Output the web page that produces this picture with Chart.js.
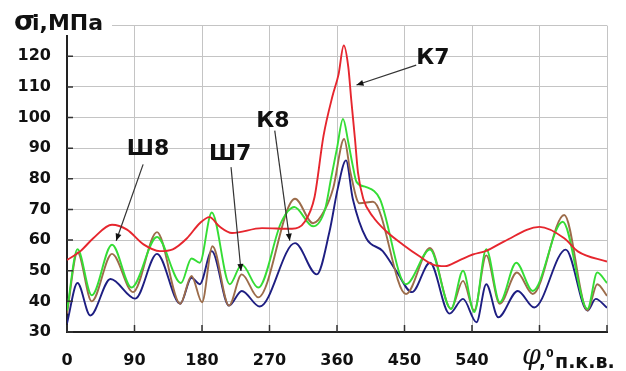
<!DOCTYPE html>
<html>
<head>
<meta charset="utf-8">
<script src="https://cdn.jsdelivr.net/npm/chart.js@4/dist/chart.umd.min.js"></script>
<style>
html,body{margin:0;padding:0;background:#fff;}
#wrap{width:626px;height:371px;position:relative;}
</style>
</head>
<body>
<div id="wrap"><canvas id="c" width="626" height="371"></canvas></div>
<script>
// Angle of crankshaft rotation (deg) and stress (MPa)
const k7 = [[0,53.5],[18,56.4],[35,60.6],[60,65],[80,63.4],[102,58.6],[124,56.4],[141,57],[160,60.6],[177,65.5],[190,67.5],[203,64.5],[220,62.3],[260,63.9],[300,63.7],[317,66],[330,74],[342,94],[354,107],[362,114],[369,123.5],[375,116.6],[379,105.8],[384,92.9],[388,82],[395,73.5],[408,67.6],[426,62.8],[448,58.5],[470,54.7],[488,52],[504,51.5],[523,53.4],[541,55.3],[559,56.5],[583,59.6],[630,64.3],[663,60.6],[681,56.3],[720,53]];
const sh8 = [[0,37],[14,57],[33,42],[60,58.5],[86,44.5],[120,61],[152,46],[166,54],[177,52.6],[193,69],[217,45.6],[233,52],[255,44.5],[286,66],[303,70.8],[328,64.5],[344,70],[352,80],[360,90],[368,99.5],[375,92],[381,84.3],[386,79],[399,77.3],[417,73.5],[452,45.6],[484,56.9],[512,37.5],[528,50],[543,36.5],[559,57],[577,39.7],[599,52.6],[621,43.4],[661,66],[694,37.5],[707,49.4],[720,46]];
const sh7 = [[0,36],[14,56],[33,40],[60,55.5],[88,43],[120,62.6],[151,39.2],[166,48.3],[180,39.7],[194,58],[216,38.6],[233,48.8],[255,41.3],[304,73.5],[328,65.5],[344,70],[355,77],[369.5,93],[378,82],[390,72],[408,72.5],[452,42.4],[484,57.4],[512,37.6],[528,46.7],[543,37],[559,55],[577,39.2],[600,49.4],[621,42.4],[663,68.2],[694,37],[707,45.6],[720,41.8]];
const k8 = [[0,32.8],[14,46],[31,35.4],[58,47.3],[91,40.9],[120,55.5],[151,39.2],[166,47.7],[177,45.6],[193,56.4],[216,38.6],[233,43.4],[257,38.3],[304,59],[333,48.8],[350,62.8],[361,76.8],[372,86],[381,73.5],[399,60.6],[421,56.4],[439,49.9],[460,43],[484,52.6],[510,36],[528,40.8],[546,33.2],[559,45.6],[575,34.8],[601,43.4],[623,38],[665,56.9],[694,37],[705,40.8],[720,37.9]];
const xTicks = [0,90,180,270,360,450,540];
const yTicks = [30,40,50,60,70,80,90,100,110,120];

// Callout labels (text, label anchor, arrow start, arrow end) in data units
const callouts = [
  {text:'К7', lx:488, ly:119.3, x1:465.6, y1:117.1, x2:386, y2:110.6},
  {text:'К8', lx:274.6, ly:98.9, x1:277, y1:95.7, x2:297, y2:59.8},
  {text:'Ш8', lx:108, ly:89.6, x1:101.5, y1:84.7, x2:65.6, y2:59.8},
  {text:'Ш7', lx:217.5, ly:88, x1:218.7, y1:83.8, x2:232, y2:49.9}
];

const toXY = a => a.map(p => ({x:p[0], y:p[1]}));

const overlay = {
  id:'overlay',
  afterDraw(chart){
    const ctx = chart.ctx, xs = chart.scales.x, ys = chart.scales.y, ca = chart.chartArea;
    ctx.save();
    // inside tick marks
    ctx.strokeStyle = '#333'; ctx.lineWidth = 1.5;
    ctx.beginPath();
    xs.ticks.forEach(t => { const px = xs.getPixelForValue(t.value); ctx.moveTo(px, ca.bottom); ctx.lineTo(px, ca.bottom-7); });
    ys.ticks.forEach(t => { if (t.value >= 130) return; const py = ys.getPixelForValue(t.value); ctx.moveTo(ca.left, py); ctx.lineTo(ca.left+6, py); });
    ctx.stroke();
    // callouts
    ctx.fillStyle = '#111'; ctx.strokeStyle = '#333'; ctx.lineWidth = 1.2;
    callouts.forEach(c => {
      const x1 = xs.getPixelForValue(c.x1), y1 = ys.getPixelForValue(c.y1);
      const x2 = xs.getPixelForValue(c.x2), y2 = ys.getPixelForValue(c.y2);
      ctx.beginPath(); ctx.moveTo(x1,y1); ctx.lineTo(x2,y2); ctx.stroke();
      const ang = Math.atan2(y2-y1, x2-x1), L = 7, W = 3;
      ctx.beginPath();
      ctx.moveTo(x2,y2);
      ctx.lineTo(x2 - L*Math.cos(ang) + W*Math.sin(ang), y2 - L*Math.sin(ang) - W*Math.cos(ang));
      ctx.lineTo(x2 - L*Math.cos(ang) - W*Math.sin(ang), y2 - L*Math.sin(ang) + W*Math.cos(ang));
      ctx.closePath(); ctx.fill();
      ctx.font = 'bold 22px "DejaVu Sans"'; ctx.textAlign = 'center'; ctx.textBaseline = 'middle';
      ctx.fillText(c.text, xs.getPixelForValue(c.lx), ys.getPixelForValue(c.ly));
    });
    // y axis title
    ctx.fillStyle = '#fff'; ctx.fillRect(0, 0, 112, 35);
    ctx.fillStyle = '#111'; ctx.textAlign = 'left'; ctx.textBaseline = 'alphabetic';
    ctx.font = 'bold 27px "DejaVu Sans"'; ctx.fillText('σ', 14, 29.5);
    ctx.font = 'bold 22px "DejaVu Sans"'; ctx.fillText('i,МПа', 32, 29.5);
    // x axis title
    ctx.font = 'italic 27px "DejaVu Serif"'; ctx.fillText('φ', 522, 364);
    ctx.font = 'bold 18px "DejaVu Sans"'; ctx.fillText(',', 539, 367);
    ctx.font = 'bold 11px "DejaVu Sans"'; ctx.fillText('0', 546, 357);
    ctx.font = 'bold 19px "DejaVu Sans"'; ctx.fillText('п.к.в.', 555, 368);
    ctx.restore();
  }
};

const ds = (label, arr, color) => ({
  label, data: toXY(arr), borderColor: color, backgroundColor: color,
  borderWidth: 1.9, pointRadius: 0, fill: false, cubicInterpolationMode: 'monotone'
});

new Chart(document.getElementById('c'), {
  type: 'line',
  data: { datasets: [
    ds('К7', k7, '#e6262e'),
    ds('Ш8', sh8, '#35dd35'),
    ds('Ш7', sh7, '#9c6c4a'),
    ds('К8', k8, '#1e1e82')
  ]},
  options: {
    responsive: false, animation: false,
    layout: { padding: { left: 0, right: 17, top: 21, bottom: 0 } },
    plugins: { legend: { display: false }, tooltip: { enabled: false } },
    scales: {
      x: {
        type: 'linear', min: 0, max: 720,
        afterFit: s => { s.height = 39; },
        afterBuildTicks: s => { s.ticks = [0,90,180,270,360,450,540,630,720].map(v => ({value:v})); },
        ticks: { stepSize: 90, padding: 19, color: '#111', font: { family: 'DejaVu Sans', size: 16, weight: 'bold' },
          callback: v => xTicks.includes(v) ? String(v) : '' , maxRotation: 0, autoSkip: false },
        grid: { color: '#c4c4c4', lineWidth: 1, drawTicks: false },
        border: { color: '#222', width: 2 }
      },
      y: {
        min: 30, max: 130,
        afterFit: s => { s.width = 67; },
        ticks: { stepSize: 10, padding: 16, color: '#111', font: { family: 'DejaVu Sans', size: 16, weight: 'bold' },
          callback: v => yTicks.includes(v) ? String(v) : '' },
        grid: { color: '#c4c4c4', lineWidth: 1, drawTicks: false },
        border: { color: '#222', width: 2 }
      }
    }
  },
  plugins: [overlay]
});
</script>
</body>
</html>
